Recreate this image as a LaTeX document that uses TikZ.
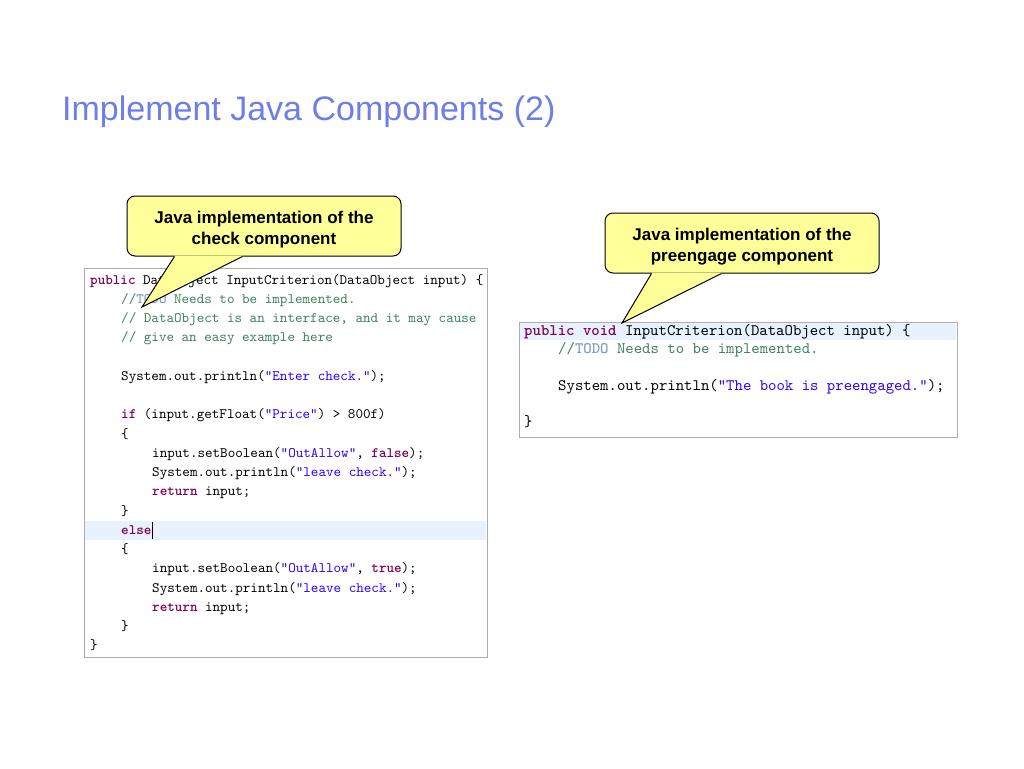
\documentclass[tikz,border=0pt]{standalone}
\usepackage{fontspec}
\setmainfont{Liberation Sans}
\setmonofont{lmmono10-regular.otf}[BoldFont=lmmonolt10-bold.otf]
\usetikzlibrary{calc}
\definecolor{titleblue}{RGB}{110,126,232}
\definecolor{noteyellow}{RGB}{255,255,153}
\definecolor{boxgray}{RGB}{172,172,172}
\definecolor{rowblue}{RGB}{232,242,254}
\definecolor{keyword}{RGB}{127,0,85}
\definecolor{comment}{RGB}{63,127,95}
\definecolor{todo}{RGB}{127,159,191}
\definecolor{string}{RGB}{42,0,255}
\newcommand{\kw}[1]{\textcolor{keyword}{\textbf{#1}}}
\newcommand{\cmt}[1]{\textcolor{comment}{#1}}
\newcommand{\todotag}[1]{\textcolor{todo}{\textbf{#1}}}
\newcommand{\str}[1]{\textcolor{string}{#1}}
\newcommand{\checkline}[3]{
	\node[codeleft] (check#1) at (90+31*#2, 284+19.26*#1-19.26) {#3};
}
\newcommand{\bookline}[3]{
	\node[coderight] (book#1) at (524+34*#2, 335.5+18.2*#1-18.2) {#3};
}
\newcommand{\drawpointer}[4]{
	\coordinate (#1a) at ($(#1.south west)+(#2,0)$);
	\coordinate (#1b) at ($(#1.south west)+(#3,0)$);
	\fill[noteyellow] ($(#1a)+(0,-1)$) -- (#1a) -- (#4) -- (#1b) -- ($(#1b)+(0,-1)$) -- cycle;
	\draw[line width=1pt] (#1a) -- (#4) -- (#1b);
}
\tikzset{
	bubble/.style={draw=black, fill=noteyellow, rounded corners=8pt, line width=1pt, minimum width=274pt, minimum height=60pt, inner sep=0pt, align=center, font=\bfseries\fontsize{17}{21}\selectfont},
	codebox/.style={draw=boxgray, fill=white, line width=1pt},
	codeleft/.style={anchor=base west, inner sep=0pt, font=\ttfamily\fontsize{14.4}{16}\selectfont},
	coderight/.style={anchor=base west, inner sep=0pt, font=\ttfamily\fontsize{16}{18}\selectfont}
}
\begin{document}
\begin{tikzpicture}[x=1pt,y=-1pt]
	\fill[white] (0,0) rectangle (1024,768);
	\useasboundingbox (0,0) rectangle (1024,768);
	\node[anchor=base west, inner sep=0pt, text=titleblue, font=\fontsize{34}{38}\selectfont] (title) at (62,120) {Implement Java Components (2)};
	% check component
	\draw[codebox] (84,268) rectangle (487,657);
	\fill[rowblue] (85,521) rectangle (486,540);
	\begin{scope}
		\clip (85,269) rectangle (486,656);
		\checkline{1}{0}{\kw{public} DataObject InputCriterion(DataObject input) \{}
		\checkline{2}{1}{\cmt{//}\todotag{TODO}\cmt{\ Needs to be implemented.}}
		\checkline{3}{1}{\cmt{// DataObject is an interface, and it may cause}}
		\checkline{4}{1}{\cmt{// give an easy example here}}
		\checkline{6}{1}{System.out.println(\str{"Enter check."});}
		\checkline{8}{1}{\kw{if} (input.getFloat(\str{"Price"}) > 800f)}
		\checkline{9}{1}{\{}
		\checkline{10}{2}{input.setBoolean(\str{"OutAllow"}, \kw{false});}
		\checkline{11}{2}{System.out.println(\str{"leave check."});}
		\checkline{12}{2}{\kw{return} input;}
		\checkline{13}{1}{\}}
		\checkline{14}{1}{\kw{else}}
		\checkline{15}{1}{\{}
		\checkline{16}{2}{input.setBoolean(\str{"OutAllow"}, \kw{true});}
		\checkline{17}{2}{System.out.println(\str{"leave check."});}
		\checkline{18}{2}{\kw{return} input;}
		\checkline{19}{1}{\}}
		\checkline{20}{0}{\}}
	\end{scope}
	\draw[line width=1.5pt] (check14.base east)++(1,-12) -- ++(0,17);
	% preengage component
	\draw[codebox] (519,322) rectangle (957,437);
	\fill[rowblue] (520,323) rectangle (956,340);
	\bookline{1}{0}{\kw{public} \kw{void} InputCriterion(DataObject input) \{}
	\bookline{2}{1}{\cmt{//}\todotag{TODO}\cmt{\ Needs to be implemented.}}
	\bookline{4}{1}{System.out.println(\str{"The book is preengaged."});}
	\bookline{6}{0}{\}}
	% notes
	\node[bubble] (checknote) at (264,226) {\rule{0pt}{19pt}Java implementation of the\\check component};
	\coordinate (checktip) at (142,307);
	\drawpointer{checknote}{48}{116}{checktip}
	\node[bubble] (booknote) at (742,243) {\rule{0pt}{19pt}Java implementation of the\\preengage component};
	\coordinate (booktip) at (622,323);
	\drawpointer{booknote}{47}{117}{booktip}
\end{tikzpicture}
\end{document}
